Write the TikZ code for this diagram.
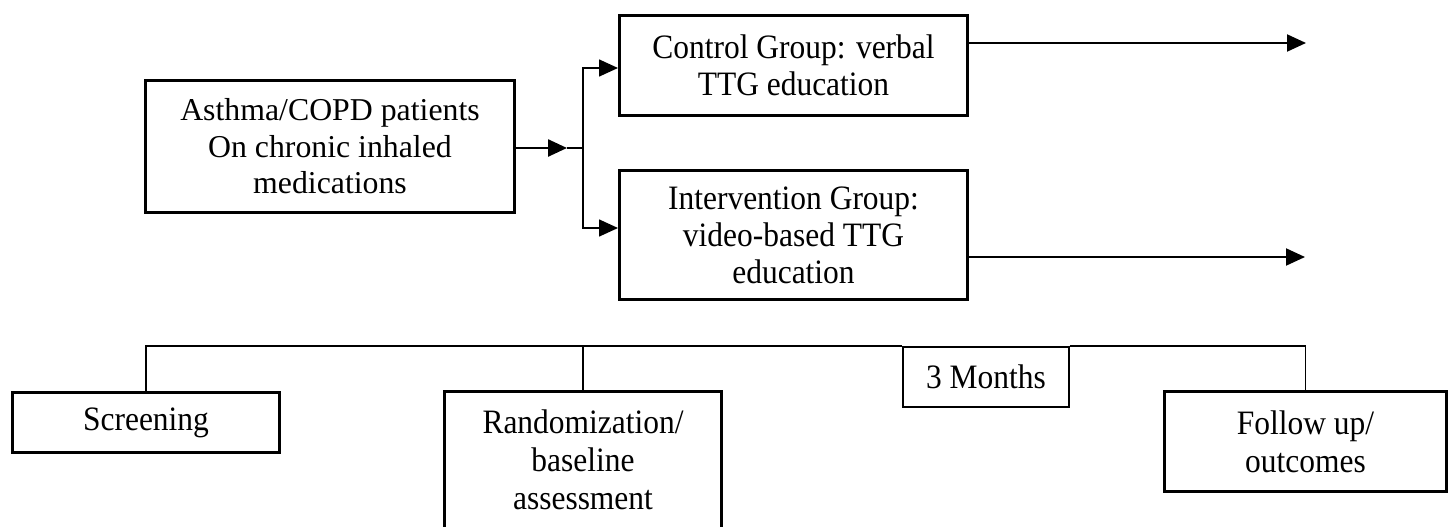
\documentclass[tikz,border=0pt]{standalone}
\usepackage{fontspec}
\setmainfont{Liberation Serif}
\newfontfamily\tallserif[FakeStretch=0.92]{Liberation Serif}
\usetikzlibrary{arrows.meta}
\begin{document}
\begin{tikzpicture}[x=1pt,y=-1pt,
  box/.style={draw,line width=3pt,inner sep=0pt,align=center,
    font=\tallserif\fontsize{34.2}{37}\selectfont},
  thinbox/.style={box,line width=1.8pt},
  conn/.style={line width=1.8pt},
  arr/.style={line width=2pt,-{Triangle[length=19pt,width=17pt]}}]
\useasboundingbox (0,0) rectangle (1453,527);
\clip (0,0) rectangle (1453,527);
% top part
\node[box,minimum width=369pt,minimum height=132pt,
  font=\fontsize{31.8}{36.5}\selectfont] (asthma) at (330,146.5)
  {Asthma/COPD patients\\On chronic inhaled\\medications};
\node[box,minimum width=348pt,minimum height=100pt] (control) at (793.5,65.5)
  {Control Group: verbal\\TTG education};
\node[box,minimum width=348pt,minimum height=129pt] (interv) at (793.5,235)
  {Intervention Group:\\video-based TTG\\education};
% bottom part
\node[box,minimum width=267pt,minimum height=60pt] (screen) at (146,422.5) {Screening};
\node[box,minimum width=277pt,minimum height=137pt,
  font=\tallserif\fontsize{34.2}{38}\selectfont] (random) at (583,460)
  {Randomization/\\baseline\\assessment};
\node[thinbox,minimum width=166pt,minimum height=60pt] (months) at (986,377) {3 Months};
\node[box,minimum width=282pt,minimum height=100pt,
  font=\tallserif\fontsize{34.2}{38}\selectfont] (follow) at (1305.5,441.5)
  {Follow up/\\outcomes};
% connectors top
\coordinate (tipA) at (567,148);
\coordinate (split) at (583,148);
\coordinate (b1) at (0,68);
\coordinate (b2) at (0,228);
\coordinate (e1) at (1306,43);
\coordinate (e2) at (1305,257);
\draw[arr,line width=2.5pt] (asthma.east |- tipA) -- (tipA);
\draw[conn,line width=2.5pt] (tipA) -- (split);
\draw[arr,line width=1.6pt] (split) |- (control.west |- b1);
\draw[arr,line width=1.6pt] (split) |- (interv.west |- b2);
\draw[arr] (control.east |- e1) -- (e1);
\draw[arr] (interv.east |- e2) -- (e2);
% timeline
\draw[conn] (screen.north) |- (months.north west);
\draw[conn] (months.north east) -| (follow.north);
\draw[conn] (random.north) -- (random.north |- months.north);
\end{tikzpicture}
\end{document}
